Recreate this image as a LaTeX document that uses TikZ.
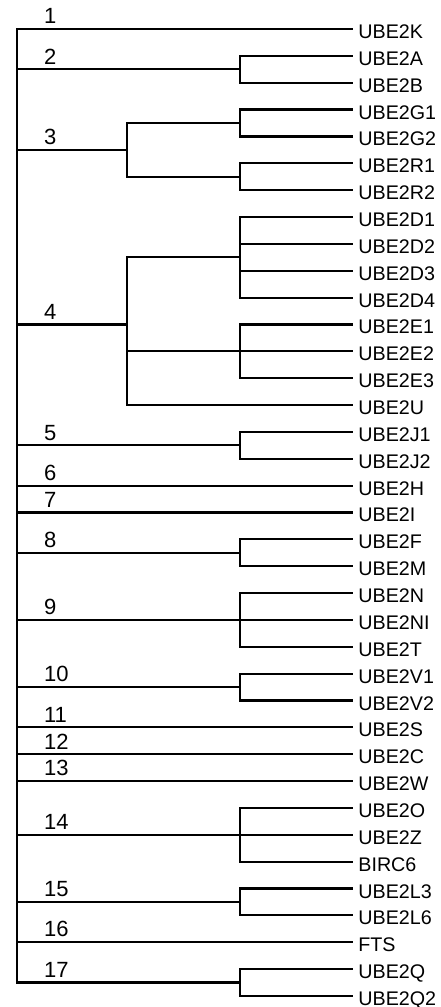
\documentclass[tikz,border=0pt]{standalone}
\usepackage{fontspec}
\setmainfont{Liberation Sans}
\usetikzlibrary{positioning,calc}

\begin{document}
\begin{tikzpicture}[
    x=0.5pt, y=-0.5pt,
    node distance=13.43pt,
    gene/.style={anchor=west, inner xsep=3pt, inner ysep=0pt, text height=9.5pt, text depth=0pt, font=\fontsize{9.85}{11}\selectfont},
    under/.style={below=of #1.west, anchor=west},
    branch/.style={line width=1.1pt, line cap=rect},
    num/.style={anchor=south west, inner sep=0pt, xshift=13pt, yshift=2pt, font=\fontsize{11}{13}\selectfont}
]
    \useasboundingbox (0,0) rectangle (440,1007);

    % Columns of the tree
    \coordinate (c0) at (17,0);
    \coordinate (c1) at (127,0);
    \coordinate (c2) at (240,0);

    % Leaves
    \node[gene] (k) at (352,29) {UBE2K};
    \node[gene, under=k] (a) {UBE2A};
    \node[gene, under=a] (b) {UBE2B};
    \node[gene, under=b] (g1) {UBE2G1};
    \node[gene, under=g1] (g2) {UBE2G2};
    \node[gene, under=g2] (r1) {UBE2R1};
    \node[gene, under=r1] (r2) {UBE2R2};
    \node[gene, under=r2] (d1) {UBE2D1};
    \node[gene, under=d1] (d2) {UBE2D2};
    \node[gene, under=d2] (d3) {UBE2D3};
    \node[gene, under=d3] (d4) {UBE2D4};
    \node[gene, under=d4] (e1) {UBE2E1};
    \node[gene, under=e1] (e2) {UBE2E2};
    \node[gene, under=e2] (e3) {UBE2E3};
    \node[gene, under=e3] (u) {UBE2U};
    \node[gene, under=u] (j1) {UBE2J1};
    \node[gene, under=j1] (j2) {UBE2J2};
    \node[gene, under=j2] (h) {UBE2H};
    \node[gene, under=h] (i) {UBE2I};
    \node[gene, under=i] (f) {UBE2F};
    \node[gene, under=f] (m) {UBE2M};
    \node[gene, under=m] (n) {UBE2N};
    \node[gene, under=n] (ni) {UBE2NI};
    \node[gene, under=ni] (t) {UBE2T};
    \node[gene, under=t] (v1) {UBE2V1};
    \node[gene, under=v1] (v2) {UBE2V2};
    \node[gene, under=v2] (s) {UBE2S};
    \node[gene, under=s] (c) {UBE2C};
    \node[gene, under=c] (w) {UBE2W};
    \node[gene, under=w] (o) {UBE2O};
    \node[gene, under=o] (z) {UBE2Z};
    \node[gene, under=z] (birc) {BIRC6};
    \node[gene, under=birc] (l3) {UBE2L3};
    \node[gene, under=l3] (l6) {UBE2L6};
    \node[gene, under=l6] (fts) {FTS};
    \node[gene, under=fts] (q) {UBE2Q};
    \node[gene, under=q] (q2) {UBE2Q2};

    % Inner junctions
    \coordinate (n2) at ($(a.west -| c2)!.5!(b.west -| c2)$);
    \coordinate (n3g) at ($(g1.west -| c2)!.5!(g2.west -| c2)$);
    \coordinate (n3r) at ($(r1.west -| c2)!.5!(r2.west -| c2)$);
    \coordinate (n3) at ($(n3g -| c1)!.5!(n3r -| c1)$);
    \coordinate (n4d) at ($(d1.west -| c2)!.5!(d4.west -| c2)$);
    \coordinate (n4e) at (e2.west -| c2);
    \coordinate (n4) at (e1.west -| c1);
    \coordinate (n5) at ($(j1.west -| c2)!.5!(j2.west -| c2)$);
    \coordinate (n8) at ($(f.west -| c2)!.5!(m.west -| c2)$);
    \coordinate (n9) at (ni.west -| c2);
    \coordinate (n10) at ($(v1.west -| c2)!.5!(v2.west -| c2)$);
    \coordinate (n14) at (z.west -| c2);
    \coordinate (n15) at ($(l3.west -| c2)!.5!(l6.west -| c2)$);
    \coordinate (n17) at ($(q.west -| c2)!.5!(q2.west -| c2)$);

    % Clusters
    \draw[branch] (a.west) -| (n2) |- (b.west);
    \draw[branch] (g1.west) -| (n3g) |- (g2.west);
    \draw[branch] (r1.west) -| (n3r) |- (r2.west);
    \draw[branch] (n3g) -| (n3) |- (n3r);
    \draw[branch] (d1.west) -| (n4d) |- (d4.west);
    \draw[branch] (d2.west -| c2) -- (d2.west);
    \draw[branch] (d3.west -| c2) -- (d3.west);
    \draw[branch] (e1.west) -| (n4e) |- (e3.west);
    \draw[branch] (n4e -| c1) -- (e2.west);
    \draw[branch] (n4d) -| (n4) |- (u.west);
    \draw[branch] (j1.west) -| (n5) |- (j2.west);
    \draw[branch] (f.west) -| (n8) |- (m.west);
    \draw[branch] (n.west) -| (n9) |- (t.west);
    \draw[branch] (n9) -- (ni.west);
    \draw[branch] (v1.west) -| (n10) |- (v2.west);
    \draw[branch] (o.west) -| (n14) |- (birc.west);
    \draw[branch] (n14) -- (z.west);
    \draw[branch] (l3.west) -| (n15) |- (l6.west);
    \draw[branch] (q.west) -| (n17) |- (q2.west);

    % Root and numbered groups
    \draw[branch] (k.west -| c0) -- (n17 -| c0);
    \draw[branch] (k.west -| c0) -- node[num, at start] {1} (k.west);
    \draw[branch] (n2 -| c0) -- node[num, at start] {2} (n2);
    \draw[branch] (n3 -| c0) -- node[num, at start] {3} (n3);
    \draw[branch] (n4 -| c0) -- node[num, at start] {4} (n4);
    \draw[branch] (n5 -| c0) -- node[num, at start] {5} (n5);
    \draw[branch] (h.west -| c0) -- node[num, at start] {6} (h.west);
    \draw[branch] (i.west -| c0) -- node[num, at start] {7} (i.west);
    \draw[branch] (n8 -| c0) -- node[num, at start] {8} (n8);
    \draw[branch] (n9 -| c0) -- node[num, at start] {9} (n9);
    \draw[branch] (n10 -| c0) -- node[num, at start] {10} (n10);
    \draw[branch] (s.west -| c0) -- node[num, at start] {11} (s.west);
    \draw[branch] (c.west -| c0) -- node[num, at start] {12} (c.west);
    \draw[branch] (w.west -| c0) -- node[num, at start] {13} (w.west);
    \draw[branch] (n14 -| c0) -- node[num, at start] {14} (n14);
    \draw[branch] (n15 -| c0) -- node[num, at start] {15} (n15);
    \draw[branch] (fts.west -| c0) -- node[num, at start] {16} (fts.west);
    \draw[branch] (n17 -| c0) -- node[num, at start] {17} (n17);
\end{tikzpicture}
\end{document}
